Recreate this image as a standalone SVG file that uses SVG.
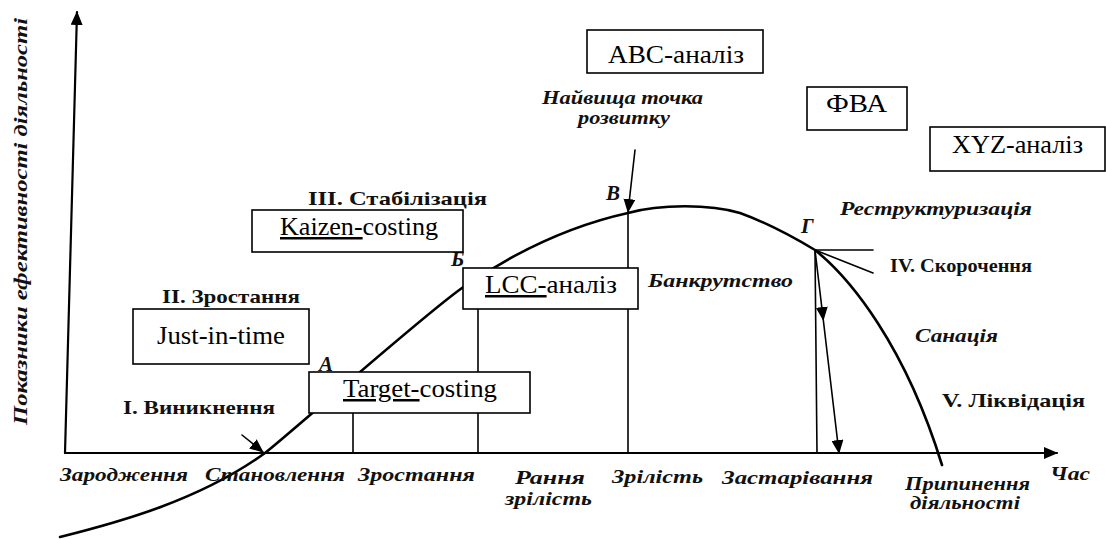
<svg xmlns="http://www.w3.org/2000/svg" width="1106" height="539" viewBox="0 0 1106 539">
<style>
.bg{fill:#fff}
.ln{stroke:#000;fill:none;stroke-linecap:round}
.ax{stroke-width:2.2}
.cv{stroke-width:2.6}
.vl{stroke-width:1.6}
.box rect{fill:#fff;stroke:#000;stroke-width:1.6}
.bt{font-family:"Liberation Serif","Times New Roman",serif;font-size:25px;fill:#000}
.st{font-family:"Liberation Serif","DejaVu Serif",serif;font-weight:bold;font-size:19px;fill:#111}
.it{font-family:"Liberation Serif","DejaVu Serif",serif;font-weight:bold;font-style:italic;font-size:19px;fill:#111}
.pt{font-family:"Liberation Serif","DejaVu Serif",serif;font-weight:bold;font-style:italic;font-size:21px;fill:#111}
</style>
<defs>
<marker id="ah" markerUnits="userSpaceOnUse" markerWidth="14" markerHeight="12" refX="13" refY="6" orient="auto">
<path d="M0,0 L14,6 L0,12 z" fill="#000"/>
</marker>
</defs>
<rect class="bg" x="0" y="0" width="1106" height="539"/>

<g id="connectors">
<path class="ln ax" d="M65,453 L77,12" marker-end="url(#ah)"/>
<path class="ln ax" d="M65,453 L1057,453" marker-end="url(#ah)"/>
<path class="ln cv" d="M60,537 C120,522 200,500 265,453 C300,425 420,318 462,288 C500,262 560,228 628,213 C660,204 710,204 740,213 C765,222 790,235 815,250 C850,278 905,345 942,465"/>
<line class="ln vl" x1="353" y1="453" x2="353" y2="380"/>
<line class="ln vl" x1="478" y1="453" x2="478" y2="300"/>
<line class="ln vl" x1="628" y1="453" x2="628" y2="213"/>
<line class="ln vl" x1="815" y1="250" x2="817" y2="453"/>
<line class="ln vl" x1="815" y1="250" x2="873" y2="250"/>
<line class="ln vl" x1="815" y1="250" x2="873" y2="273"/>
<path class="ln vl" d="M815,250 L823.3,320 L839,453" marker-mid="url(#ah)" marker-end="url(#ah)"/>
<path class="ln vl" d="M635,150 L628,212" marker-end="url(#ah)"/>
<path class="ln vl" d="M242,435 L263,452" marker-end="url(#ah)"/>
</g>

<g id="axis-y-label"><text class="it" transform="translate(27,425) rotate(-90)" textLength="407" lengthAdjust="spacingAndGlyphs">Показники ефективності діяльності</text></g>
<g id="axis-x-label"><text class="it" x="1050" y="480" textLength="40" lengthAdjust="spacingAndGlyphs">Час</text></g>

<g id="phase-labels">
<text class="it" x="60" y="481" textLength="128" lengthAdjust="spacingAndGlyphs">Зародження</text>
<text class="it" x="205" y="481" textLength="140" lengthAdjust="spacingAndGlyphs">Становлення</text>
<text class="it" x="358" y="481" textLength="117" lengthAdjust="spacingAndGlyphs">Зростання</text>
<text class="it" x="515" y="484" textLength="70" lengthAdjust="spacingAndGlyphs">Рання</text>
<text class="it" x="505" y="505" textLength="87" lengthAdjust="spacingAndGlyphs">зрілість</text>
<text class="it" x="612" y="483" textLength="91" lengthAdjust="spacingAndGlyphs">Зрілість</text>
<text class="it" x="722" y="484" textLength="151" lengthAdjust="spacingAndGlyphs">Застарівання</text>
<text class="it" x="905" y="490" textLength="125" lengthAdjust="spacingAndGlyphs">Припинення</text>
<text class="it" x="910" y="509" textLength="110" lengthAdjust="spacingAndGlyphs">діяльності</text>
</g>

<g id="stage-labels">
<text class="st" x="123" y="414" textLength="152" lengthAdjust="spacingAndGlyphs">I. Виникнення</text>
<text class="st" x="162" y="303" textLength="138" lengthAdjust="spacingAndGlyphs">II. Зростання</text>
<text class="st" x="308" y="205" textLength="179" lengthAdjust="spacingAndGlyphs">III. Стабілізація</text>
<text class="st" x="890" y="272" textLength="142" lengthAdjust="spacingAndGlyphs">IV. Скорочення</text>
<text class="st" x="942" y="407" textLength="143" lengthAdjust="spacingAndGlyphs">V. Ліквідація</text>
</g>

<g id="state-labels">
<text class="it" x="542" y="104" textLength="161" lengthAdjust="spacingAndGlyphs">Найвища точка</text>
<text class="it" x="578" y="124" textLength="92" lengthAdjust="spacingAndGlyphs">розвитку</text>
<text class="it" x="840" y="215" textLength="192" lengthAdjust="spacingAndGlyphs">Реструктуризація</text>
<text class="it" x="648" y="287" textLength="145" lengthAdjust="spacingAndGlyphs">Банкрутство</text>
<text class="it" x="915" y="342" textLength="83" lengthAdjust="spacingAndGlyphs">Санація</text>
</g>

<g id="point-labels">
<text class="pt" x="606" y="200">В</text>
<text class="pt" x="451" y="266">Б</text>
<text class="pt" x="801" y="233">Г</text>
<text class="pt" x="319" y="371">А</text>
</g>

<g id="box-just-in-time" class="box">
<rect x="133" y="309" width="176" height="55"/>
<text class="bt" x="157" y="344" textLength="128" lengthAdjust="spacingAndGlyphs">Just-in-time</text>
</g>
<g id="box-target-costing" class="box">
<rect x="309" y="372" width="221" height="41"/>
<text class="bt" x="343" y="397" textLength="154" lengthAdjust="spacingAndGlyphs"><tspan text-decoration="underline">Target-</tspan>costing</text>
</g>
<g id="box-kaizen-costing" class="box">
<rect x="252" y="210" width="211" height="42"/>
<text class="bt" x="280" y="235" textLength="158" lengthAdjust="spacingAndGlyphs"><tspan text-decoration="underline">Kaizen-</tspan>costing</text>
</g>
<g id="box-lcc" class="box">
<rect x="463" y="268" width="175" height="41"/>
<text class="bt" x="485" y="293" textLength="132" lengthAdjust="spacingAndGlyphs"><tspan text-decoration="underline">LCC-</tspan>аналіз</text>
</g>
<g id="box-abc" class="box">
<rect x="587" y="30" width="176" height="43"/>
<text class="bt" x="608" y="63" textLength="136" lengthAdjust="spacingAndGlyphs">ABC-аналіз</text>
</g>
<g id="box-fva" class="box">
<rect x="807" y="87" width="100" height="43"/>
<text class="bt" x="826" y="112" textLength="61" lengthAdjust="spacingAndGlyphs">ФВА</text>
</g>
<g id="box-xyz" class="box">
<rect x="930" y="127" width="175" height="44"/>
<text class="bt" x="952" y="153" textLength="131" lengthAdjust="spacingAndGlyphs">XYZ-аналіз</text>
</g>
</svg>
